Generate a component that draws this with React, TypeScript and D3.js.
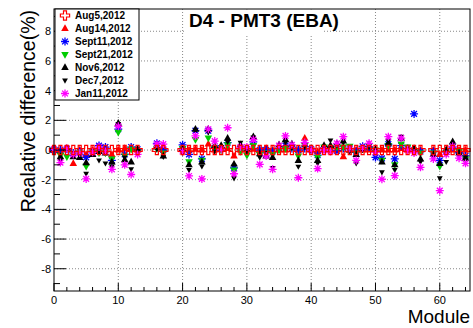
import React from "react";
import * as d3 from "d3";

// Module numbers with a measurement
const modules = [
  0, 1, 2, 3, 4, 5, 6, 7, 8, 9, 10, 11, 12, 13, 16, 17,
  20, 21, 22, 23, 24, 25, 26, 27, 28, 29, 30, 31, 32, 33, 34, 35, 36, 37, 38, 39,
  40, 41, 42, 43, 44, 45, 46, 47, 48, 49, 50, 51, 52, 53, 54, 55, 56, 57,
  59, 60, 61, 62, 63, 64,
];

// Relative difference (%) per run, same order as modules
const aug5 = modules.map(() => 0);
const aug14 = [
  0, -0.1, 0.1, -0.9, 0, -0.3, 0, 0.1, 0, -0.3, 0, 0.1, 0.1, 0, 0.3, 0.1,
  0.1, 0, 0.05, 0, 0.4, 0, 0.05, 0.1, -0.4, 0, 0, 0.05, 0, 0.1, 0, 0, 0, 0.3, 0, 0.8,
  0, -0.1, 0, 0, 0, -0.45, 0, 0, 0, 0, 0, 0, 0, 0, 0.1, 0, 0, 0,
  0, -0.3, 0, 0, 0, 0,
];
const sept11 = [
  0, 0, 0.05, -0.2, -0.1, -0.5, -0.2, 0.3, 0.2, -0.7, 1.4, -0.3, 0.2, 0.05, 0.45, 0,
  0.35, -0.3, 1.3, -0.6, 1.3, 0.15, 0.1, 0.5, -1.2, 0.1, 0.05, 0.55, 0, 0, -0.1, 0.1, 0.3, 0.1, 0, 0.1,
  0.05, -0.35, 0.1, 0.1, -0.05, 0.1, 0.1, -0.1, 0.25, 0.2, -0.5, -0.56, 0.4, -0.6, 0.3, 0.1, 2.43, -0.1,
  -0.1, -0.7, -0.1, 0.2, -0.2, -0.4,
];
const sept21 = [
  0, -0.35, -0.45, -0.3, -0.15, -1.1, -0.1, -0.2, -0.2, -0.6, 1.2, -0.4, 0.05, -0.05, 0.1, -0.2,
  0.1, -0.8, 0.7, -0.7, 0.8, 0.1, 0, 0.35, -1.35, -0.1, -0.35, 0.3, -0.3, -0.2, -0.3, 0, 0.1, 0.2, -0.4, 0.3,
  0, -0.5, 0.2, 0.1, 0.2, 0.2, 0.25, -0.2, 0.1, 0.3, 0, -0.7, 0.3, -1.0, 0.4, 0.2, -0.1, -0.2,
  -0.2, -1.1, -0.2, 0.3, -0.1, -0.6,
];
const nov6 = [
  0, -0.45, 0.1, -0.45, -0.5, -0.85, -0.3, -0.1, -0.2, -0.8, 1.8, -0.65, -0.8, 0.05, 0.2, -0.4,
  0.1, -1.0, 1.4, -0.8, 1.4, 0.25, 0.3, 0.8, -0.95, 0.35, 0.05, 0.9, -0.25, -0.4, -0.5, 0.35, 0.7, 0.4, -0.7, 0.4,
  0, -0.7, 0.3, 0.3, 0.4, 0.6, 0, -0.3, 0.1, 0.35, 0.05, -0.8, 0.45, -1.0, 0.8, 0.05, 0.1, -0.6,
  -0.3, -0.9, 0, 0.56, -0.2, -0.55,
];
const dec7 = [
  0, -0.7, 0.15, -0.2, -0.4, -1.6, -0.1, -0.7, -0.9, -1.1, 1.75, -0.5, -1.3, -0.1, 0.05, -0.45,
  -0.2, -1.35, 1.3, -1.1, 1.2, -0.1, 0.2, 0.55, -1.9, 0.5, -0.1, 0.85, -0.5, -0.2, -1.2, 0.2, 0.5, 0.15, -1.12, 0.2,
  -0.05, -0.9, 0.1, 0.65, 0.3, 0.5, -0.1, -0.9, 0, 0.2, -0.2, -1.5, 0.6, -1.35, 0.9, 0, 0.05, -0.8,
  -0.5, -1.9, -0.8, 0.3, -0.3, -0.5,
];
const jan11 = [
  0.05, -0.85, 0.1, -0.3, -0.2, -1.95, -0.15, 0.2, -0.1, -1.3, 1.6, -1.0, -1.65, -0.3, 0.4, 0.4,
  -0.1, -1.75, 0.95, -1.95, 1.4, 0.6, 0.05, 1.5, -1.6, 0.2, 0.2, 0.7, -0.97, -0.4, -1.3, 0.3, 0.95, 0.35, -1.87, 0.5,
  0, -1.25, 0, -0.1, 0.45, 0.9, 0.1, -0.7, 0.15, 0.45, -0.15, -1.97, 0.9, -1.73, 0.8, 0, -0.2, -1.17,
  -0.6, -2.74, -0.3, 0.25, -0.55, -0.9,
];

const runLabels = [
  "Aug5,2012",
  "Aug14,2012",
  "Sept11,2012",
  "Sept21,2012",
  "Nov6,2012",
  "Dec7,2012",
  "Jan11,2012",
];

const xTicks = [0, 10, 20, 30, 40, 50, 60];
const yTicks = [-8, -6, -4, -2, 0, 2, 4, 6, 8];

const W = 473;
const H = 328;
const frame = { left: 54, right: 470, top: 9, bottom: 291 };
const FONT = "'Liberation Sans', Arial, Helvetica, sans-serif";

type MarkerKind = "openCross" | "triUp" | "triDown" | "star" | "smallDown";

// ROOT-like marker shapes
function markerPath(kind: MarkerKind): string {
  switch (kind) {
    case "openCross": {
      const r = 4.6;
      const a = 1.5;
      return `M${-a},${-r}H${a}V${-a}H${r}V${a}H${a}V${r}H${-a}V${a}H${-r}V${-a}H${-a}Z`;
    }
    case "triUp": {
      const r = 4.2;
      return `M0,${-r}L${r * 0.9},${r * 0.6}L${-r * 0.9},${r * 0.6}Z`;
    }
    case "triDown": {
      const r = 4.2;
      return `M0,${r}L${r * 0.9},${-r * 0.6}L${-r * 0.9},${-r * 0.6}Z`;
    }
    case "smallDown": {
      const r = 3.2;
      return `M0,${r}L${r * 0.9},${-r * 0.6}L${-r * 0.9},${-r * 0.6}Z`;
    }
    case "star": {
      const r = 4;
      const d = r * 0.72;
      return `M${-r},0H${r}M0,${-r}V${r}M${-d},${-d}L${d},${d}M${-d},${d}L${d},${-d}`;
    }
  }
}

const series: { label: string; values: number[]; color: string; kind: MarkerKind }[] = [
  { label: runLabels[0], values: aug5, color: "#ff0000", kind: "openCross" },
  { label: runLabels[1], values: aug14, color: "#ff0000", kind: "triUp" },
  { label: runLabels[2], values: sept11, color: "#0000ff", kind: "star" },
  { label: runLabels[3], values: sept21, color: "#00cc00", kind: "triDown" },
  { label: runLabels[4], values: nov6, color: "#000000", kind: "triUp" },
  { label: runLabels[5], values: dec7, color: "#000000", kind: "smallDown" },
  { label: runLabels[6], values: jan11, color: "#ff00ff", kind: "star" },
];

function Marker({ kind, color, x, y }: { kind: MarkerKind; color: string; x: number; y: number }) {
  const d = markerPath(kind);
  if (kind === "star") {
    return (
      <path d={d} transform={`translate(${x},${y})`} fill="none" stroke={color} strokeWidth={1.3} />
    );
  }
  if (kind === "openCross") {
    return (
      <path d={d} transform={`translate(${x},${y})`} fill="none" stroke={color} strokeWidth={1.2} />
    );
  }
  return <path d={d} transform={`translate(${x},${y})`} fill={color} stroke="none" />;
}

export default function App() {
  const x = d3.scaleLinear().domain([0, 64.7]).range([frame.left, frame.right]);
  const y = d3.scaleLinear().domain([-9.5, 9.5]).range([frame.bottom, frame.top]);

  const xMinor = d3.range(0, 65, 2).filter((v) => v % 10 !== 0);
  const yMinor = d3.range(-9, 10, 1).filter((v) => v % 2 !== 0);

  // draw order: later runs on top, reference run last
  const drawOrder = [1, 2, 3, 4, 5, 6, 0];

  const legend = { x0: 55, y0: 9, x1: 139, y1: 100 };
  const rowH = (legend.y1 - legend.y0) / runLabels.length;

  return (
    <svg
      width={W}
      height={H}
      style={{ position: "absolute", left: 0, top: 0, background: "#fff" }}
      fontFamily={FONT}
    >
      <rect x={0} y={0} width={W} height={H} fill="#fff" />

      {/* grid */}
      <g stroke="#888" strokeWidth={1} strokeDasharray="1,2">
        {xTicks
          .filter((t) => t > 0)
          .map((t) => (
            <line key={`gx${t}`} x1={x(t)} x2={x(t)} y1={frame.top} y2={frame.bottom} />
          ))}
        {yTicks.map((t) => (
          <line key={`gy${t}`} x1={frame.left} x2={frame.right} y1={y(t)} y2={y(t)} />
        ))}
      </g>

      {/* title box */}
      <rect x={184} y={frame.top + 0.5} width={139} height={25} fill="#fff" />
      <text
        x={264}
        y={27}
        textAnchor="middle"
        fontSize={19}
        fontWeight="bold"
        fill="#000"
      >
        D4 - PMT3 (EBA)
      </text>

      {/* data */}
      <g>
        {drawOrder.map((si) => {
          const s = series[si];
          return (
            <g key={s.label}>
              {modules.map((m, i) => (
                <Marker key={m} kind={s.kind} color={s.color} x={x(m)} y={y(s.values[i])} />
              ))}
            </g>
          );
        })}
      </g>

      {/* frame */}
      <rect
        x={frame.left}
        y={frame.top}
        width={frame.right - frame.left}
        height={frame.bottom - frame.top}
        fill="none"
        stroke="#000"
        strokeWidth={1}
      />

      {/* axis ticks */}
      <g stroke="#000" strokeWidth={1}>
        {yTicks.map((t) => (
          <line key={`ty${t}`} x1={frame.left} x2={frame.left + 12} y1={y(t)} y2={y(t)} />
        ))}
        {yMinor.map((t) => (
          <line key={`my${t}`} x1={frame.left} x2={frame.left + 6} y1={y(t)} y2={y(t)} />
        ))}
        {xTicks.map((t) => (
          <line key={`tx${t}`} x1={x(t)} x2={x(t)} y1={frame.bottom} y2={frame.bottom - 8} />
        ))}
        {xMinor.map((t) => (
          <line key={`mx${t}`} x1={x(t)} x2={x(t)} y1={frame.bottom} y2={frame.bottom - 4} />
        ))}
      </g>

      {/* tick labels */}
      <g fontSize={11} fill="#000">
        {yTicks.map((t) => (
          <text key={`ly${t}`} x={51} y={y(t) + 4} textAnchor="end">
            {t}
          </text>
        ))}
        {xTicks.map((t) => (
          <text key={`lx${t}`} x={x(t)} y={304} textAnchor="middle">
            {t}
          </text>
        ))}
      </g>

      {/* axis titles */}
      <text x={470} y={323} textAnchor="end" fontSize={19} fill="#000">
        Module
      </text>
      <text
        transform="translate(35,10) rotate(-90)"
        textAnchor="end"
        fontSize={19.5}
        fill="#000"
      >
        Realative difference(%)
      </text>

      {/* legend */}
      <rect
        x={legend.x0}
        y={legend.y0}
        width={legend.x1 - legend.x0}
        height={legend.y1 - legend.y0}
        fill="#fff"
        stroke="#000"
        strokeWidth={1}
      />
      {series.map((s, i) => {
        const cy = legend.y0 + rowH * (i + 0.5);
        return (
          <g key={`lg${s.label}`}>
            <Marker kind={s.kind} color={s.color} x={65} y={cy} />
            <text x={75} y={cy + 3.5} fontSize={10} fontWeight="bold" fill="#000">
              {s.label}
            </text>
          </g>
        );
      })}
    </svg>
  );
}
